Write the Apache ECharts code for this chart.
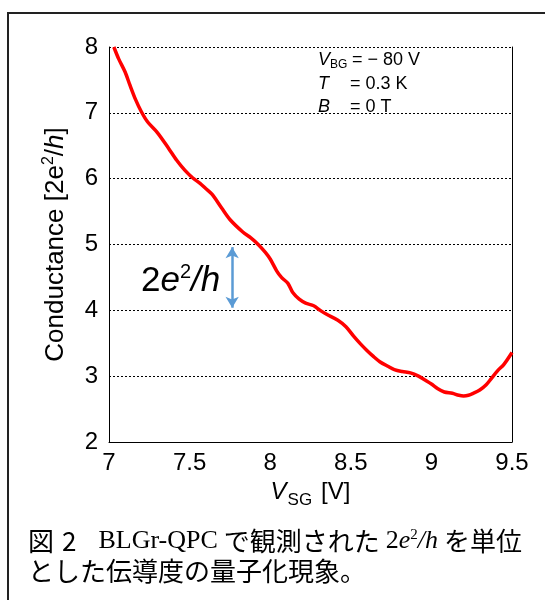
<!DOCTYPE html>
<html>
<head>
<meta charset="utf-8">
<script src="https://cdn.jsdelivr.net/npm/echarts@6/dist/echarts.min.js"></script>
<style>
  html, body { margin: 0; padding: 0; background: #fff; }
  #chart { width: 545px; height: 600px; }
</style>
</head>
<body>
<div id="chart"></div>
<script>
// V_SG [V] sampled along the red trace
const vsg = [
  7.03, 7.06, 7.10, 7.13, 7.165, 7.20, 7.24, 7.30, 7.37, 7.42, 7.47, 7.52,
  7.565, 7.60, 7.64, 7.70, 7.75, 7.83, 7.88, 7.93, 7.97, 8.00, 8.04, 8.07,
  8.11, 8.14, 8.18, 8.22, 8.27, 8.31, 8.35, 8.42, 8.47, 8.52, 8.56, 8.60,
  8.64, 8.68, 8.73, 8.77, 8.82, 8.87, 8.92, 8.96, 9.00, 9.04, 9.08, 9.13,
  9.17, 9.20, 9.23, 9.26, 9.30, 9.34, 9.37, 9.41, 9.45, 9.50
];
// Conductance [2e^2/h]
const conductance = [
  8.00, 7.82, 7.62, 7.42, 7.20, 7.02, 6.86, 6.70, 6.46, 6.28, 6.13, 6.01,
  5.93, 5.85, 5.76, 5.55, 5.38, 5.19, 5.10, 4.99, 4.88, 4.78, 4.60, 4.50,
  4.41, 4.27, 4.17, 4.11, 4.07, 4.00, 3.94, 3.85, 3.75, 3.60, 3.49, 3.39,
  3.30, 3.22, 3.15, 3.10, 3.07, 3.05, 3.00, 2.94, 2.88, 2.81, 2.76, 2.74,
  2.71, 2.70, 2.71, 2.74, 2.79, 2.87, 2.96, 3.08, 3.18, 3.36
];
// the 2e^2/h step arrow: [V_SG, G] ends
const stepArrow = [[7.764, 4.96], [7.764, 4.04]];
const xTicks = { min: 7, max: 9.5, interval: 0.5 };
const yTicks = { min: 2, max: 8, interval: 1 };

const chart = echarts.init(document.getElementById('chart'));
const sans = 'Liberation Sans, Arial, sans-serif';
const serif = 'Liberation Serif, Times New Roman, serif';
const jp = 'Noto Sans CJK JP, sans-serif';

const option = {
  animation: false,
  grid: { left: 109, right: 33, top: 47, bottom: 158 },
  xAxis: {
    type: 'value',
    min: xTicks.min, max: xTicks.max, interval: xTicks.interval,
    axisLine: { show: true, lineStyle: { color: '#000', width: 1 } },
    axisTick: { show: false },
    splitLine: { show: false },
    axisLabel: { color: '#000', fontSize: 24, fontFamily: sans, margin: 9 },
    name: '{v|V}{sub|SG}{n|[V]}',
    nameLocation: 'middle',
    nameGap: 34,
    nameTextStyle: {
      rich: {
        v: { fontSize: 24, fontStyle: 'italic', fontFamily: sans, color: '#000' },
        sub: { fontSize: 17, fontFamily: sans, color: '#000', padding: [16, 9, 0, 1] },
        n: { fontSize: 24, fontFamily: sans, color: '#000' }
      }
    }
  },
  yAxis: [{
    type: 'value',
    min: yTicks.min, max: yTicks.max, interval: yTicks.interval,
    axisLine: { show: true, lineStyle: { color: '#000', width: 1 } },
    axisTick: { show: false },
    splitLine: { show: true, lineStyle: { color: '#000', type: [2, 2], width: 1 } },
    axisLabel: { color: '#000', fontSize: 24, fontFamily: sans, margin: 11, padding: [0, 0, 8, 0] },
    name: '{n|Conductance [2e}{sup|2}{n|/}{i|h}{n|]}',
    nameLocation: 'middle',
    nameGap: 38,
    nameTextStyle: {
      rich: {
        n: { fontSize: 26, fontFamily: sans, color: '#000' },
        sup: { fontSize: 16, fontFamily: sans, color: '#000', padding: [0, 0, 14, 0] },
        i: { fontSize: 26, fontStyle: 'italic', fontFamily: sans, color: '#000' }
      }
    }
  }, {
    type: 'value',
    position: 'right',
    min: yTicks.min, max: yTicks.max, interval: yTicks.interval,
    axisLine: { show: true, lineStyle: { color: '#000', width: 1 } },
    axisTick: { show: false },
    axisLabel: { show: false },
    splitLine: { show: false }
  }],
  series: [{
    type: 'line',
    data: vsg.map((v, i) => [v, conductance[i]]),
    showSymbol: false,
    smooth: 0.3,
    lineStyle: { color: '#ff0000', width: 3.5 },
    z: 5
  }, {
    type: 'line',
    data: [],
    markLine: {
      silent: true,
      symbol: ['arrow', 'arrow'],
      symbolSize: [10, 11],
      label: { show: false },
      lineStyle: { color: '#5b9bd5', width: 2.5, type: 'solid' },
      data: [[{ coord: stepArrow[0] }, { coord: stepArrow[1] }]]
    }
  }],
  graphic: [
    {
      type: 'rect',
      shape: { x: 8, y: 13, width: 620, height: 700 },
      style: { fill: 'none', stroke: '#222', lineWidth: 2 },
      silent: true
    },
    // conditions
    { type: 'text', x: 318, y: 60, style: { text: '{i|V}{s|BG}', verticalAlign: 'middle',
      rich: { i: { fontSize: 18, fontStyle: 'italic', fontFamily: sans, fill: '#000' },
              s: { fontSize: 12, fontFamily: sans, fill: '#000', padding: [9, 0, 0, 0] } } } },
    { type: 'text', x: 352, y: 60, style: { text: '= − 80 V', font: '18px ' + sans, fill: '#000', verticalAlign: 'middle' } },
    { type: 'text', x: 318, y: 84, style: { text: 'T', font: 'italic 18px ' + sans, fill: '#000', verticalAlign: 'middle' } },
    { type: 'text', x: 350, y: 84, style: { text: '= 0.3 K', font: '18px ' + sans, fill: '#000', verticalAlign: 'middle' } },
    { type: 'text', x: 318, y: 107, style: { text: 'B', font: 'italic 18px ' + sans, fill: '#000', verticalAlign: 'middle' } },
    { type: 'text', x: 350, y: 107, style: { text: '= 0 T', font: '18px ' + sans, fill: '#000', verticalAlign: 'middle' } },
    // step label
    { type: 'text', x: 141, y: 281, style: { text: '{n|2}{i|e}{sup|2}{i|/h}', verticalAlign: 'middle',
      rich: { n: { fontSize: 35, fontFamily: sans, fill: '#000' },
              i: { fontSize: 35, fontStyle: 'italic', fontFamily: sans, fill: '#000' },
              sup: { fontSize: 20, fontFamily: sans, fill: '#000', padding: [0, 0, 18, 0] } } } },
    // caption
    { type: 'text', x: 28, y: 541, style: {
      text: '{j0|図}{r2|2}{r|BLGr-QPC}{j|で観測された}{r|2}{ri|e}{rs|2}{ri|/h}{j|を単位}',
      verticalAlign: 'middle',
      rich: {
        j0: { fontSize: 26, fontFamily: jp, fill: '#000', padding: [0, 8, 0, 0] },
        j: { fontSize: 26, fontFamily: jp, fill: '#000', padding: [0, 6, 0, 6] },
        r2: { fontSize: 26, fontFamily: jp, fill: '#000', padding: [0, 22, 0, 0] },
        r: { fontSize: 26, fontFamily: serif, fill: '#000' },
        ri: { fontSize: 26, fontStyle: 'italic', fontFamily: serif, fill: '#000' },
        rs: { fontSize: 15, fontFamily: serif, fill: '#000', padding: [0, 0, 12, 0] }
      } } },
    { type: 'text', x: 28, y: 571, style: { text: 'とした伝導度の量子化現象。', font: '26px ' + jp, fill: '#000', verticalAlign: 'middle' } }
  ]
};
chart.setOption(option);
</script>
</body>
</html>
